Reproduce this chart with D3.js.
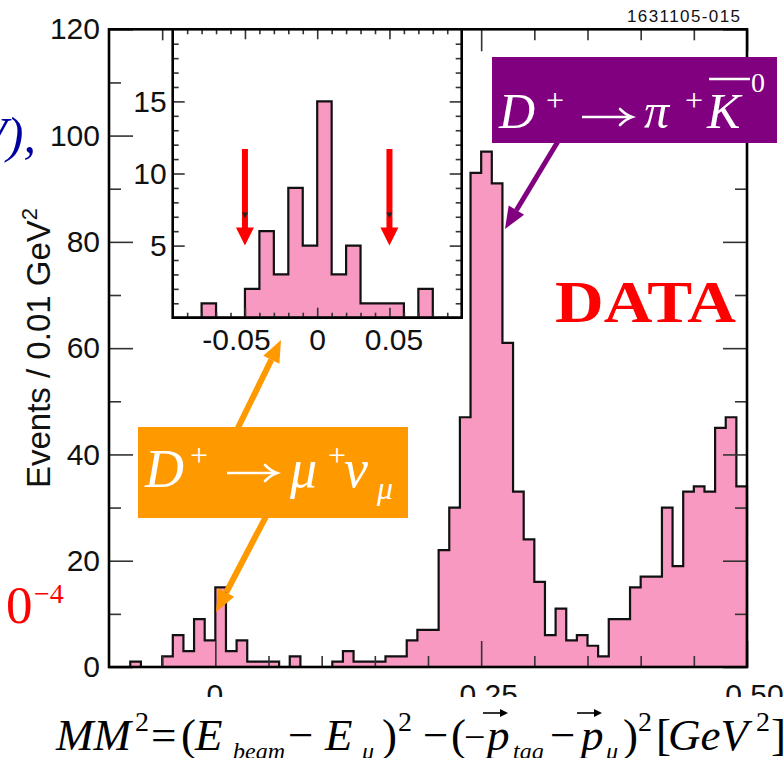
<!DOCTYPE html>
<html><head><meta charset="utf-8">
<script src="https://cdn.jsdelivr.net/npm/d3@7"></script>
<style>
html,body{margin:0;padding:0;background:#fff;}
svg{display:block;}
</style></head><body>
<svg id="c" width="784" height="758"></svg>
<script>
// ---------------- data ----------------
const binLow = [-0.10,-0.09,-0.08,-0.07,-0.06,-0.05,-0.04,-0.03,-0.02,-0.01,
                 0.00, 0.01, 0.02, 0.03, 0.04, 0.05, 0.06, 0.07, 0.08, 0.09,
                 0.10, 0.11, 0.12, 0.13, 0.14, 0.15, 0.16, 0.17, 0.18, 0.19,
                 0.20, 0.21, 0.22, 0.23, 0.24, 0.25, 0.26, 0.27, 0.28, 0.29,
                 0.30, 0.31, 0.32, 0.33, 0.34, 0.35, 0.36, 0.37, 0.38, 0.39,
                 0.40, 0.41, 0.42, 0.43, 0.44, 0.45, 0.46, 0.47, 0.48, 0.49];
const counts = [0,0,1,0,0,2,6,3,9,5,
                15,3,5,1,1,1,0,2,0,0,
                0,1,3,1,1,1,2,2,5,7,
                7,22,30,47,93,97,91,61,33,24,
                16,6,11,5,6,4,2,9,9,15,
                17,17,30,19,33,34,33,45,47,34];
const binWidth = 0.01;
const yTickVals = [0,20,40,60,80,100,120];
const xTickVals = [0,0.25,0.5];
const xTickText = ["0","0.25","0.50"];
const insetYTickVals = [5,10,15];
const insetXTickVals = [-0.05,0,0.05];
const insetXTickText = ["-0.05","0","0.05"];
const cutValues = [-0.05,0.05];

// ---------------- setup ----------------
const svg = d3.select("#c");
const SANS = "'Liberation Sans', Arial, Helvetica, sans-serif";
const SERIF = "'Liberation Serif', 'Times New Roman', serif";
const PINK = "#F799C0";
const TICK = "#333";

const x = d3.scaleLinear().domain([-0.1,0.5]).range([109,747]);
const y = d3.scaleLinear().domain([0,120]).range([667,29.3]);
const xi = d3.scaleLinear().domain([-0.1,0.1]).range([172.7,461.7]);
const yi = d3.scaleLinear().domain([0,20]).range([317.7,29.3]);

function stepPath(xs, ys, lo, cnt){
  let p = `M${xs(lo[0])},${ys(0)}`;
  lo.forEach((l,i)=>{
    p += `L${xs(l)},${ys(cnt[i])}L${xs(l+binWidth)},${ys(cnt[i])}`;
  });
  p += `L${xs(lo[lo.length-1]+binWidth)},${ys(0)}Z`;
  return p;
}
function styleAxis(g, fontSize){
  g.select(".domain").remove();
  g.selectAll(".tick line").attr("stroke",TICK).attr("stroke-width",1.6);
  g.selectAll(".tick text").attr("font-family",SANS).attr("font-size",fontSize).attr("fill","#111");
}
const round2 = v => Math.round(v*1000)/1000;

// --------------- main histogram ---------------
svg.append("path").attr("d", stepPath(x,y,binLow,counts))
  .attr("fill",PINK).attr("stroke","#111").attr("stroke-width",2.2).attr("stroke-linejoin","miter");

const yMinor = d3.range(10,120,20);
const xAll = d3.range(-0.05,0.5,0.05).map(round2);
const xMinor = xAll.filter(v => !xTickVals.some(t=>Math.abs(t-v)<1e-6));

svg.append("g").attr("transform","translate(109,0)")
  .call(d3.axisLeft(y).tickValues(yTickVals).tickSize(-24).tickPadding(9).tickFormat(d3.format("d")))
  .call(g=>styleAxis(g,30));
svg.append("g").attr("transform","translate(109,0)")
  .call(d3.axisLeft(y).tickValues(yMinor).tickSize(-12).tickFormat(""))
  .call(g=>styleAxis(g,30));
svg.append("g").attr("transform","translate(747,0)")
  .call(d3.axisRight(y).tickValues(yTickVals).tickSize(-24).tickFormat(""))
  .call(g=>styleAxis(g,30));
svg.append("g").attr("transform","translate(747,0)")
  .call(d3.axisRight(y).tickValues(yMinor).tickSize(-12).tickFormat(""))
  .call(g=>styleAxis(g,30));
const xb = svg.append("g").attr("transform","translate(0,667)")
  .call(d3.axisBottom(x).tickValues(xTickVals).tickSize(-26).tickPadding(17).tickFormat((d,i)=>xTickText[i]))
  .call(g=>styleAxis(g,30));
xb.selectAll(".tick text").attr("dx", d => d>0 ? 7 : -1);
svg.append("g").attr("transform","translate(0,667)")
  .call(d3.axisBottom(x).tickValues(xMinor).tickSize(-11).tickFormat(""))
  .call(g=>styleAxis(g,30));
svg.append("g").attr("transform","translate(0,29.3)")
  .call(d3.axisTop(x).tickValues(xTickVals).tickSize(-22).tickFormat(""))
  .call(g=>styleAxis(g,30));
svg.append("g").attr("transform","translate(0,29.3)")
  .call(d3.axisTop(x).tickValues(xMinor).tickSize(-11).tickFormat(""))
  .call(g=>styleAxis(g,30));

svg.append("rect").attr("x",x(-0.1)).attr("y",y(120)).attr("width",x(0.5)-x(-0.1)).attr("height",y(0)-y(120))
  .attr("fill","none").attr("stroke","#000").attr("stroke-width",2.6);

// y label
svg.append("text").attr("transform","translate(50,348) rotate(-90)")
  .attr("text-anchor","middle").attr("font-family",SANS).attr("font-size",33).attr("fill","#111")
  .call(t=>{
    t.append("tspan").text("Events / 0.01 GeV");
    t.append("tspan").attr("dy",-13).attr("font-size",22).text("2");
  });

svg.append("text").attr("x",627).attr("y",22).attr("font-family",SANS).attr("font-size",17)
  .attr("fill","#111").attr("textLength",113).attr("lengthAdjust","spacing").text("1631105-015");

// --------------- inset ---------------
const insetLo = binLow.filter(v => v < 0.1 - 1e-9);
const insetCounts = counts.slice(0, insetLo.length);
svg.append("rect").attr("x",xi(-0.1)).attr("y",yi(20)).attr("width",xi(0.1)-xi(-0.1)).attr("height",yi(0)-yi(20))
  .attr("fill","#fff");
svg.append("path").attr("d", stepPath(xi,yi,insetLo,insetCounts))
  .attr("fill",PINK).attr("stroke","#111").attr("stroke-width",2.2);

const iyMinor = d3.range(1,20).filter(v => v%5!==0);
const ixAll = d3.range(-0.09,0.1,0.01).map(round2);
const ixMinor = ixAll.filter(v => !insetXTickVals.some(t=>Math.abs(t-v)<1e-6));

svg.append("g").attr("transform",`translate(${xi(-0.1)},0)`)
  .call(d3.axisLeft(yi).tickValues(insetYTickVals).tickSize(-12).tickPadding(6))
  .call(g=>styleAxis(g,30));
svg.append("g").attr("transform",`translate(${xi(-0.1)},0)`)
  .call(d3.axisLeft(yi).tickValues(iyMinor).tickSize(-6).tickFormat(""))
  .call(g=>styleAxis(g,30));
svg.append("g").attr("transform",`translate(${xi(0.1)},0)`)
  .call(d3.axisRight(yi).tickValues(insetYTickVals).tickSize(-12).tickFormat(""))
  .call(g=>styleAxis(g,30));
svg.append("g").attr("transform",`translate(${xi(0.1)},0)`)
  .call(d3.axisRight(yi).tickValues(iyMinor).tickSize(-6).tickFormat(""))
  .call(g=>styleAxis(g,30));
const ixb = svg.append("g").attr("transform",`translate(0,${yi(0)})`)
  .call(d3.axisBottom(xi).tickValues(insetXTickVals).tickSize(-10).tickPadding(11).tickFormat((d,i)=>insetXTickText[i]))
  .call(g=>styleAxis(g,30));
ixb.selectAll(".tick text").attr("dx", d => d<0 ? -9 : (d>0 ? 4 : 0));
svg.append("g").attr("transform",`translate(0,${yi(0)})`)
  .call(d3.axisBottom(xi).tickValues(ixMinor).tickSize(-5).tickFormat(""))
  .call(g=>styleAxis(g,30));
svg.append("g").attr("transform",`translate(0,${yi(20)})`)
  .call(d3.axisTop(xi).tickValues(insetXTickVals).tickSize(-10).tickFormat(""))
  .call(g=>styleAxis(g,30));
svg.append("g").attr("transform",`translate(0,${yi(20)})`)
  .call(d3.axisTop(xi).tickValues(ixMinor).tickSize(-5).tickFormat(""))
  .call(g=>styleAxis(g,30));
svg.append("rect").attr("x",xi(-0.1)).attr("y",yi(20)).attr("width",xi(0.1)-xi(-0.1)).attr("height",yi(0)-yi(20))
  .attr("fill","none").attr("stroke","#000").attr("stroke-width",2.6);

// red cut arrows
cutValues.forEach(v=>{
  const cx = xi(v), tip = yi(5), top = yi(11.7);
  svg.append("rect").attr("x",cx-3).attr("y",top).attr("width",6).attr("height",tip-18-top+1).attr("fill","#FF0000");
  svg.append("path").attr("d",`M${cx-9},${tip-18}L${cx+9},${tip-18}L${cx},${tip}Z`).attr("fill","#FF0000");
  svg.append("path").attr("d",`M${cx-3},${yi(7.3)}L${cx+3},${yi(7.3)}L${cx},${yi(6.9)}Z`).attr("fill","#222");
});

// --------------- annotations ---------------
function arrow(x1,y1,x2,y2,color,w,hl,hw){
  const a = Math.atan2(y2-y1,x2-x1);
  const bx = x2 - hl*Math.cos(a), by = y2 - hl*Math.sin(a);
  const px = -Math.sin(a)*hw/2, py = Math.cos(a)*hw/2;
  svg.append("line").attr("x1",x1).attr("y1",y1).attr("x2",bx).attr("y2",by)
    .attr("stroke",color).attr("stroke-width",w);
  svg.append("path").attr("d",`M${bx+px},${by+py}L${x2},${y2}L${bx-px},${by-py}Z`).attr("fill",color);
}
function mathArrow(x1,x2,yc,color){
  svg.append("line").attr("x1",x1).attr("y1",yc).attr("x2",x2-1).attr("y2",yc)
    .attr("stroke",color).attr("stroke-width",2.6);
  svg.append("path").attr("d",`M${x2-12},${yc-8}Q${x2-6},${yc-2} ${x2},${yc}Q${x2-6},${yc+2} ${x2-12},${yc+8}`)
    .attr("fill","none").attr("stroke",color).attr("stroke-width",2.6).attr("stroke-linecap","round");
}
arrow(560,138,505,229,"#800080",5,22,18);
arrow(232,440,281,340,"#FF9900",6,22,18);
arrow(272,505,216,612,"#FF9900",6,22,18);

function txt(xp,yp,s,size,italic,fill,fam){
  return svg.append("text").attr("x",xp).attr("y",yp).attr("font-family",fam||SERIF).attr("font-size",size)
    .attr("font-style",italic?"italic":"normal").attr("fill",fill).text(s);
}
// purple box
svg.append("rect").attr("x",492).attr("y",57).attr("width",285).attr("height",86).attr("fill","#800080");
txt(499,128,"D",50,true,"#fff");
txt(546,111,"+",32,false,"#fff");
mathArrow(582,632,117,"#fff");
txt(644,128,"\u03C0",50,true,"#fff");
txt(685,111,"+",32,false,"#fff");
txt(707,128,"K",50,true,"#fff");
svg.append("line").attr("x1",709).attr("y1",79).attr("x2",750).attr("y2",79).attr("stroke","#fff").attr("stroke-width",2.5);
txt(751,92,"0",28,false,"#fff");

// orange box
svg.append("rect").attr("x",138).attr("y",427).attr("width",270).attr("height",91).attr("fill","#FF9900");
txt(145,487,"D",54,true,"#fff");
txt(190,466,"+",32,false,"#fff");
mathArrow(227,277,473,"#fff");
txt(290,487,"\u03BC",54,true,"#fff");
txt(328,466,"+",32,false,"#fff");
txt(344,487,"\u03BD",54,true,"#fff");
txt(377,499,"\u03BC",32,true,"#fff");

// DATA
svg.append("text").attr("x",555).attr("y",322).attr("font-family",SERIF).attr("font-weight","bold")
  .attr("font-size",60).attr("fill","#FF0000").attr("textLength",181).attr("lengthAdjust","spacingAndGlyphs").text("DATA");

// left fragments from slide
svg.append("text").attr("x",36).attr("y",152).attr("text-anchor","end").attr("font-family",SERIF)
  .attr("font-style","italic").attr("font-size",50).attr("fill","#0000A0").text("GeV),");
txt(6,623,"0",53,false,"#FF0000");
txt(34,603,"\u22124",28,false,"#FF0000");

// --------------- formula ---------------
svg.append("rect").attr("x",48).attr("y",697).attr("width",736).attr("height",61).attr("fill","#fff");
const FB = 750, FS = 731, FU = 759;
txt(56,FB,"MM",45,true,"#000");
txt(135,FS,"2",28,false,"#000");
txt(151,FB,"=",45,false,"#000");
txt(181,FB,"(",45,false,"#000");
txt(195,FB,"E",45,true,"#000");
txt(233,FU,"beam",24,true,"#000");
txt(288,FB,"\u2212",45,false,"#000");
txt(325,FB,"E",45,true,"#000");
txt(362,FU,"\u03BC",24,true,"#000");
txt(382,FB,")",45,false,"#000");
txt(398,FS,"2",28,false,"#000");
txt(423,FB,"\u2212",45,false,"#000");
txt(451,FB,"(",45,false,"#000");
txt(464,FB,"\u2212",38,false,"#000");
txt(487,FB,"p",45,true,"#000");
txt(513,FU,"tag",24,true,"#000");
txt(550,FB,"\u2212",45,false,"#000");
txt(581,FB,"p",45,true,"#000");
txt(606,FU,"\u03BC",24,true,"#000");
txt(623,FB,")",45,false,"#000");
txt(638,FS,"2",28,false,"#000");
txt(656,FB,"[",45,false,"#000");
txt(668,FB,"GeV",45,true,"#000");
txt(756,FS,"2",28,false,"#000");
txt(771,FB,"]",45,false,"#000");
[487,581].forEach(px=>{
  svg.append("line").attr("x1",px-4).attr("y1",713).attr("x2",px+18).attr("y2",713).attr("stroke","#000").attr("stroke-width",1.6);
  svg.append("path").attr("d",`M${px+13},${709}L${px+21},${713}L${px+13},${717}Z`).attr("fill","#000");
});
</script>
</body></html>
